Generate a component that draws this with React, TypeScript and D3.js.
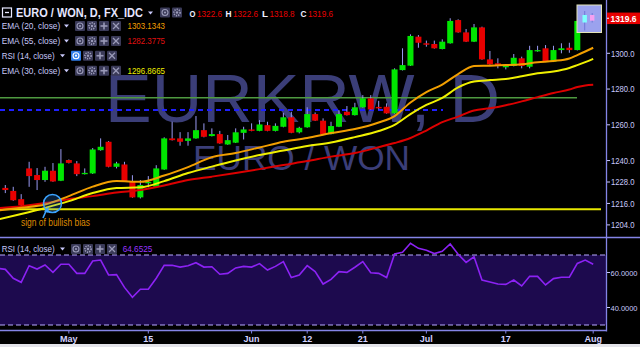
import React, { useLayoutEffect } from 'react';
import * as d3 from 'd3';

// ---------- data ----------
const opens = [1224.7,1223.0,1218.4,1235.6,1231.9,1229.1,1234.3,1228.7,1240.3,1238.4,1232.4,1232.8,1245.8,1250.5,1236.5,1237.8,1228.1,1219.4,1227.6,1225.3,1235.0,1252.4,1252.4,1251.0,1252.4,1257.0,1253.7,1254.8,1249.0,1250.0,1255.5,1257.4,1256.6,1259.8,1256.6,1258.9,1264.2,1255.8,1258.6,1266.0,1262.3,1254.8,1258.9,1267.3,1265.4,1269.8,1274.8,1270.0,1270.1,1266.4,1290.6,1293.1,1309.3,1305.6,1305.2,1302.4,1305.6,1318.6,1311.7,1306.5,1314.5,1296.6,1294.4,1292.2,1292.9,1297.2,1292.5,1301.1,1302.8,1295.3,1301.8,1303.1,1301.8,1318.0,1322.6];
const highs = [1226.3,1225.3,1221.2,1239.3,1235.8,1236.5,1238.6,1246.4,1240.6,1239.7,1235.6,1247.0,1252.4,1250.9,1239.3,1239.3,1231.8,1229.1,1231.3,1237.4,1253.0,1261.7,1255.9,1255.9,1264.9,1260.8,1258.0,1256.6,1254.3,1258.0,1258.9,1260.8,1262.6,1261.7,1260.8,1266.7,1267.3,1258.9,1269.8,1266.9,1263.6,1261.7,1268.2,1270.5,1272.3,1276.6,1276.6,1273.4,1272.0,1291.6,1302.8,1310.6,1310.2,1307.1,1307.1,1307.8,1319.6,1319.0,1313.6,1316.4,1314.9,1301.3,1297.2,1294.0,1299.6,1298.1,1304.2,1304.2,1304.6,1304.2,1305.6,1305.9,1318.1,1323.5,1322.6];
const lows = [1221.8,1217.5,1214.1,1225.3,1223.5,1228.1,1228.1,1228.5,1238.4,1231.3,1232.2,1232.5,1245.5,1236.2,1235.6,1228.2,1219.2,1218.8,1225.0,1225.0,1234.8,1251.2,1248.3,1248.3,1252.2,1253.0,1253.5,1249.4,1248.8,1249.8,1251.8,1256.4,1256.4,1256.4,1256.3,1258.6,1255.3,1255.2,1258.4,1262.1,1254.6,1254.6,1258.7,1265.2,1265.2,1269.6,1268.4,1268.6,1266.2,1266.2,1290.4,1292.9,1303.1,1303.7,1302.6,1302.2,1305.4,1311.5,1306.3,1306.3,1296.4,1293.6,1291.6,1291.0,1292.7,1291.6,1291.6,1300.9,1295.1,1295.1,1300.0,1300.3,1301.6,1316.9,1318.8];
const closes = [1223.5,1217.8,1215.0,1231.3,1229.1,1234.3,1228.3,1238.4,1238.7,1232.4,1233.1,1246.2,1247.7,1236.5,1238.4,1228.5,1219.4,1226.3,1228.0,1235.6,1252.4,1251.4,1250.5,1252.4,1257.0,1253.3,1254.8,1249.6,1251.4,1255.8,1257.4,1256.6,1260.2,1256.6,1259.4,1264.2,1255.5,1258.3,1266.0,1262.3,1254.8,1259.3,1266.0,1265.4,1269.8,1274.8,1268.6,1269.2,1266.4,1291.0,1293.4,1309.7,1305.9,1304.8,1302.8,1306.5,1318.1,1311.7,1306.5,1314.5,1296.6,1293.8,1292.9,1292.9,1297.5,1292.9,1301.8,1301.8,1295.3,1301.8,1302.8,1301.8,1318.1,1322.6,1319.6];

// EMA values read at these bar indices
const emaIndex = [-1,2,5,8,11,14,17,20,23,26,29,32,35,38,41,44,47,49,51,53,55,57,59,61,63,65,67,69,71,72,73,74];
const ema20 = [1212.0,1213.6,1215.4,1220.1,1225.4,1228.5,1228.1,1231.6,1236.3,1241.9,1244.2,1247.3,1250.5,1252.6,1255.4,1257.6,1261.3,1264.9,1272.5,1278.3,1282.5,1288.4,1292.9,1293.1,1293.4,1293.9,1295.0,1295.7,1297.1,1299.0,1301.0,1303.1];
const ema30 = [1206.9,1210.1,1213.5,1217.3,1221.8,1224.6,1225.0,1228.5,1233.0,1236.6,1240.0,1243.1,1245.6,1248.1,1250.1,1253.1,1256.5,1259.9,1266.0,1271.1,1275.0,1280.9,1284.2,1285.0,1285.6,1287.1,1288.8,1289.8,1291.8,1293.4,1295.1,1296.9];
const ema55 = [1213.4,1214.5,1216.2,1218.4,1220.1,1222.1,1223.5,1226.0,1229.1,1231.0,1233.0,1235.2,1237.5,1239.7,1242.2,1244.2,1247.5,1249.8,1252.6,1256.8,1261.5,1264.6,1268.0,1269.2,1270.9,1273.1,1275.5,1277.8,1279.7,1281.1,1282.0,1282.4];

// RSI(14) starting at bar index -1
const rsiStart = -1;
const rsiValues = [62.4,61.8,56.7,54.4,63.9,62.0,64.3,60.1,64.7,64.7,59.5,59.5,66.6,67.1,58.6,58.8,51.5,45.8,50.4,50.4,56.7,64.1,64.1,63.1,63.9,65.6,63.1,63.3,59.0,59.5,62.6,63.5,63.1,65.1,61.4,63.5,66.2,57.1,58.6,63.9,60.5,53.4,56.1,60.5,60.1,63.0,66.2,59.9,59.5,57.1,70.6,71.5,76.7,73.8,72.7,70.8,72.1,76.3,70.4,65.8,69.0,55.7,54.6,53.4,53.2,55.7,52.3,57.8,57.8,52.9,56.5,57.3,57.3,65.2,67.1,64.7];

const priceTicks = [1300, 1280, 1260, 1240, 1228, 1216, 1204];
const rsiTicks = [60, 40];
const rsiBands = [70, 30];
const dateTickIndex = [8, 18, 31, 38, 45, 53, 63, 74];
const dateTickLabels = ['May', '15', 'Jun', '12', '21', 'Jul', '17', 'Aug'];
const lastPrice = 1319.6;
const ohlcLetters = ['O', 'H', 'L', 'C'];
const ohlcValues = ['1322.6', '1322.6', '1318.8', '1319.6'];
const levelYellow = 1212.8;
const levelGreen = 1275.1;
const levelBlue = 1268.3;
const legendTitle = 'EURO / WON, D, FX_IDC';
const emaLegendNames = ['EMA (20, close)', 'EMA (55, close)', 'RSI (14, close)', 'EMA (30, close)'];
const emaLegendValues = ['1303.1343', '1282.3775', '', '1296.8665'];
const rsiLegendValue = '64.6525';
const annotationText = 'sign of bullish bias';

// ---------- styling ----------
const FONT = '"Liberation Sans", Arial, sans-serif';
const AXIS = '#8484e6';
const LABEL = '#c8c8fa';
const GREEN = '#00e600';
const RED = '#e80000';
const WICK = '#9a9af2';
const C_EMA20 = '#f29f00';
const C_EMA30 = '#f0f000';
const C_EMA55 = '#dc0000';

const W = 640, H = 347;
const AXIS_X = 606;
const PANE_SEP = 237.5;
const X_AXIS_Y = 330.5;

const xs = d3.scaleLinear().domain([0, 74]).range([5.3, 593.2]);
const yP = d3.scaleLinear().domain([1204, 1300]).range([224.9, 53.3]);
const yR = d3.scaleLinear().domain([30, 70]).range([325, 255]);

function Icon({ x, y, kind, active }: { x: number; y: number; kind: string; active?: boolean }) {
  const s = 10;
  const cx = x + s / 2, cy = y + s / 2;
  const g = active ? '#ffffff' : '#9a9ab8';
  let glyph: any = null;
  if (kind === 'eye') {
    glyph = (<g><circle cx={cx} cy={cy} r={3} fill="none" stroke={g} strokeWidth={1.1} /><circle cx={cx} cy={cy} r={1.1} fill={g} /></g>);
  } else if (kind === 'gear') {
    glyph = (<g><circle cx={cx} cy={cy} r={3.1} fill="none" stroke={g} strokeWidth={1.6} strokeDasharray="1.3 1" /><circle cx={cx} cy={cy} r={1.2} fill={g} /></g>);
  } else if (kind === 'plus') {
    glyph = (<g stroke={g} strokeWidth={1.6}><line x1={cx - 3.5} y1={cy} x2={cx + 3.5} y2={cy} /><line x1={cx} y1={cy - 3.5} x2={cx} y2={cy + 3.5} /></g>);
  } else {
    glyph = (<g stroke={g} strokeWidth={1.3}><line x1={cx - 3} y1={cy - 3} x2={cx + 3} y2={cy + 3} /><line x1={cx + 3} y1={cy - 3} x2={cx - 3} y2={cy + 3} /></g>);
  }
  return (
    <g>
      <rect x={x} y={y} width={s} height={s} rx={1} fill={active ? '#2f7dea' : '#3a3a58'} />
      {glyph}
    </g>
  );
}

function Caret({ x, y }: { x: number; y: number }) {
  return <path d={`M${x},${y - 1.5}L${x + 5},${y - 1.5}L${x + 2.5},${y + 1.5}Z`} fill={LABEL} />;
}

function T({ x, y, text, len, size = 9.5, fill = LABEL, weight = 'normal', anchor = 'start' }: any) {
  return (
    <text x={x} y={y} fontFamily={FONT} fontSize={size} fill={fill} fontWeight={weight}
      textAnchor={anchor} textLength={len} lengthAdjust="spacingAndGlyphs">{text}</text>
  );
}

export default function App() {
  useLayoutEffect(() => {
    document.body.style.margin = '0';
    document.body.style.background = '#000';
  }, []);

  const idx = d3.range(opens.length);
  const emaLine = d3.line<number>()
    .x((_, i) => xs(emaIndex[i]))
    .y((d) => yP(d))
    .curve(d3.curveMonotoneX);
  const rsiLine = d3.line<number>()
    .x((_, i) => xs(rsiStart + i))
    .y((d) => yR(d));

  const legendRows = [26, 41, 55.7, 70.7];
  const legendColors = [C_EMA20, '#e01010', '', C_EMA30];
  const iconKinds = ['eye', 'gear', 'plus', 'x'];

  return (
    <svg width={W} height={H} viewBox={`0 0 ${W} ${H}`}
      style={{ position: 'absolute', left: 0, top: 0, display: 'block' }}>
      <defs>
        <clipPath id="mainClip"><rect x={0} y={0} width={AXIS_X} height={PANE_SEP} /></clipPath>
        <clipPath id="rsiClip"><rect x={0} y={PANE_SEP + 1} width={AXIS_X} height={X_AXIS_Y - PANE_SEP - 1} /></clipPath>
      </defs>
      <rect x={0} y={0} width={W} height={H} fill="#000" />

      {/* watermark */}
      <text x={105} y={122} fontFamily={FONT} fontSize={69} fill="#3b3e78" textLength={395} lengthAdjust="spacingAndGlyphs">EURKRW, D</text>
      <text x={193} y={170} fontFamily={FONT} fontSize={35} fill="#3b3e78" textLength={217} lengthAdjust="spacingAndGlyphs">EURO / WON</text>

      <g clipPath="url(#mainClip)">
        {/* horizontal drawings */}
        <line x1={0} x2={601} y1={yP(levelYellow)} y2={yP(levelYellow)} stroke="#e8e800" strokeWidth={2} />
        <line x1={0} x2={577} y1={yP(levelGreen)} y2={yP(levelGreen)} stroke="#4e9a40" strokeWidth={1.5} />
        <line x1={0} x2={443} y1={yP(levelBlue)} y2={yP(levelBlue)} stroke="#1f1fff" strokeWidth={2} strokeDasharray="5 4" />

        {/* candles */}
        {idx.map((i) => {
          const o = opens[i], c = closes[i];
          const up = c >= o;
          const x = xs(i);
          const top = yP(Math.max(o, c));
          const bot = yP(Math.min(o, c));
          return (
            <g key={i}>
              <line x1={x} x2={x} y1={yP(highs[i])} y2={yP(lows[i])} stroke={WICK} strokeWidth={1} />
              <rect x={x - 3} y={top} width={6} height={Math.max(1.3, bot - top)} fill={up ? GREEN : RED} />
            </g>
          );
        })}

        {/* EMAs */}
        <path d={emaLine(ema55) || ''} fill="none" stroke={C_EMA55} strokeWidth={2} />
        <path d={emaLine(ema30) || ''} fill="none" stroke={C_EMA30} strokeWidth={2} />
        <path d={emaLine(ema20) || ''} fill="none" stroke={C_EMA20} strokeWidth={2} />

        {/* annotation */}
        <circle cx={52.5} cy={203.5} r={9} fill="rgba(40,140,255,0.22)" stroke="#3ca4ff" strokeWidth={1.5} />
        <line x1={43} y1={218} x2={46} y2={211} stroke="#3ca4ff" strokeWidth={1.6} />
        <path d="M44,211.5L48.5,206.5L48.5,213Z" fill="#3ca4ff" />
        <T x={21} y={226} text={annotationText} len={69} size={10} fill="#de8a00" />

        {/* marker box */}
        <rect x={577} y={5} width={24.5} height={27.5} fill="#9ba2ee" stroke="#e4e4b8" strokeWidth={1} />
        <line x1={584.7} x2={584.7} y1={11} y2={30.5} stroke="#6f78d8" strokeWidth={1} />
        <rect x={582.5} y={15} width={4.4} height={7.5} fill="#80ffff" />
        <line x1={592.2} x2={592.2} y1={13} y2={22.5} stroke="#6f78d8" strokeWidth={1} />
        <rect x={590} y={15} width={4.4} height={5.7} fill="#f4a0f0" />
      </g>

      {/* RSI pane */}
      <rect x={0} y={yR(70)} width={AXIS_X} height={yR(30) - yR(70)} fill="#1d0a4e" />
      {rsiBands.map((b) => (
        <line key={b} x1={0} x2={AXIS_X} y1={yR(b)} y2={yR(b)} stroke="#b8aaff" strokeWidth={1.2} strokeDasharray="5 3" />
      ))}
      <g clipPath="url(#rsiClip)">
        <path d={rsiLine(rsiValues) || ''} fill="none" stroke="#8c22f4" strokeWidth={1.6} />
      </g>

      {/* pane borders / axes */}
      <line x1={0} x2={W} y1={PANE_SEP} y2={PANE_SEP} stroke={AXIS} strokeWidth={1.3} />
      <line x1={0} x2={AXIS_X} y1={X_AXIS_Y} y2={X_AXIS_Y} stroke={AXIS} strokeWidth={1.3} />
      <line x1={AXIS_X + 0.5} x2={AXIS_X + 0.5} y1={0} y2={X_AXIS_Y + 1} stroke={AXIS} strokeWidth={1.3} />

      {/* price axis */}
      {priceTicks.map((t) => (
        <g key={t}>
          <line x1={AXIS_X + 1} x2={AXIS_X + 4} y1={yP(t)} y2={yP(t)} stroke={LABEL} strokeWidth={1} />
          <T x={611} y={yP(t) + 3.2} text={t.toFixed(1)} len={23.5} size={9} />
        </g>
      ))}
      <rect x={AXIS_X + 1} y={yP(lastPrice) - 5.7} width={W - AXIS_X - 1} height={11.5} fill="#e60000" />
      <line x1={AXIS_X + 1} x2={AXIS_X + 3} y1={yP(lastPrice)} y2={yP(lastPrice)} stroke="#fff" strokeWidth={1} />
      <T x={610.5} y={yP(lastPrice) + 3.4} text={lastPrice.toFixed(1)} len={26} size={9} fill="#ffffff" weight="bold" />

      {/* RSI axis */}
      {rsiTicks.map((t) => (
        <g key={t}>
          <line x1={AXIS_X + 1} x2={AXIS_X + 4} y1={yR(t)} y2={yR(t)} stroke={LABEL} strokeWidth={1} />
          <T x={610.5} y={yR(t) + 3} text={t.toFixed(4)} len={27} size={8} />
        </g>
      ))}

      {/* date axis */}
      {dateTickIndex.map((di, k) => (
        <g key={di}>
          <line x1={xs(di)} x2={xs(di)} y1={X_AXIS_Y} y2={X_AXIS_Y + 3} stroke={AXIS} strokeWidth={1} />
          <T x={xs(di)} y={341.5} text={dateTickLabels[k]} size={9} weight="bold" anchor="middle" fill="#d2d2ff" />
        </g>
      ))}
      <rect x={0} y={344} width={W} height={3} fill="#e4e4ea" />

      {/* main legend */}
      <rect x={2.5} y={8} width={9} height={9} fill="none" stroke="#e8e8ff" strokeWidth={1.2} />
      <line x1={5} x2={9} y1={12.5} y2={12.5} stroke="#e8e8ff" strokeWidth={1.3} />
      <T x={16} y={17.3} text={legendTitle} len={127} size={13} weight="bold" fill="#e6e6ff" />
      <Caret x={148} y={13} />
      <Icon x={160} y={7.5} kind="eye" />
      <Icon x={172} y={7.5} kind="gear" />
      {ohlcLetters.map((l, k) => {
        const lx = [189.5, 225.5, 262, 300.5][k];
        return (
          <g key={l}>
            <T x={lx} y={16.6} text={l} len={6} size={8.5} weight="bold" fill="#f0f0ff" />
            <T x={lx + 7.5} y={16.6} text={ohlcValues[k]} len={25} size={8.2} fill="#e80000" />
          </g>
        );
      })}
      {emaLegendNames.map((n, k) => {
        const cy = legendRows[k];
        const isRsi = n.startsWith('RSI');
        const tl = isRsi ? 53 : 58.5;
        const cx = isRsi ? 60 : 64;
        const ix = isRsi ? 71 : 75;
        return (
          <g key={n + k}>
            <T x={1.7} y={cy + 3.3} text={n} len={tl} size={9.5} />
            <Caret x={cx} y={cy} />
            {iconKinds.map((kind, j) => (
              <Icon key={kind} x={ix + j * 12} y={cy - 5} kind={kind} active={isRsi && j === 0} />
            ))}
            {emaLegendValues[k] && (
              <T x={127.5} y={cy + 3.3} text={emaLegendValues[k]} len={37.5} size={9.5} fill={legendColors[k]} />
            )}
          </g>
        );
      })}

      {/* RSI legend */}
      <T x={1.7} y={252.4} text="RSI (14, close)" len={53} size={9.5} />
      <Caret x={60} y={249} />
      {iconKinds.map((kind, j) => (
        <Icon key={kind} x={71 + j * 12} y={244} kind={kind} />
      ))}
      <T x={122.7} y={252.4} text={rsiLegendValue} len={29.6} size={9.5} fill="#9a34ff" />
    </svg>
  );
}
